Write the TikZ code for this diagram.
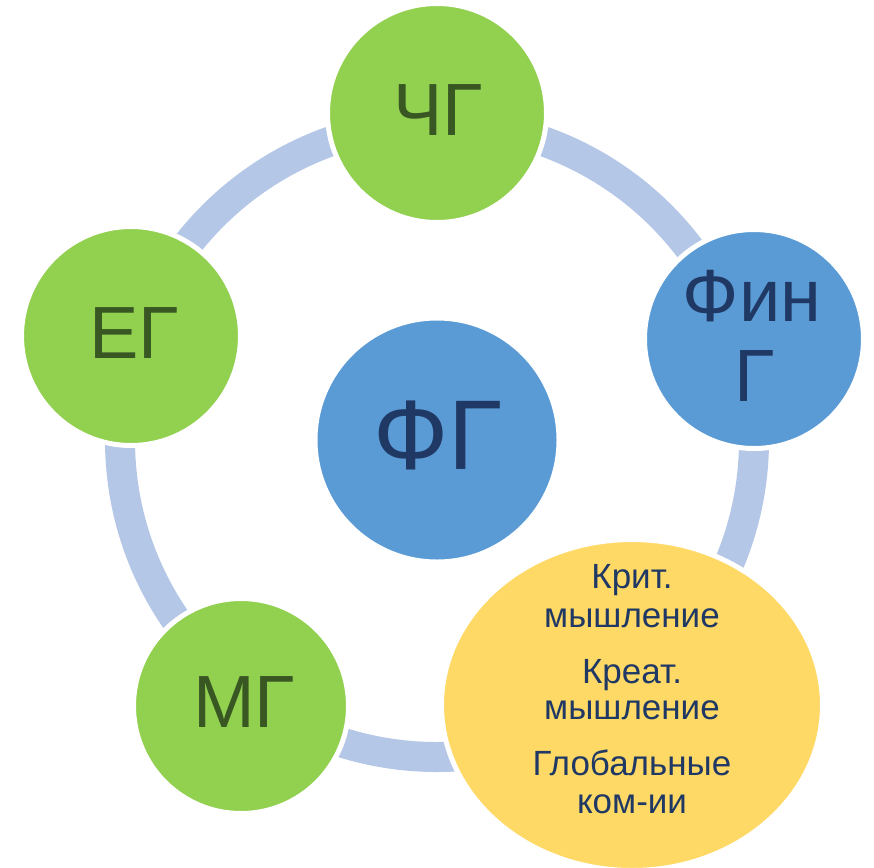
\documentclass[tikz,border=0pt]{standalone}
\usepackage{fontspec}
\setmainfont{Liberation Sans}
\usetikzlibrary{shapes.geometric}
\definecolor{ringc}{HTML}{B4C7E7}
\definecolor{greenc}{HTML}{92D050}
\definecolor{bluec}{HTML}{5B9BD5}
\definecolor{yellowc}{HTML}{FFD966}
\definecolor{gtext}{HTML}{385723}
\definecolor{ntext}{HTML}{1F3864}
\begin{document}
\begin{tikzpicture}[x=1pt,y=-1pt,
  bub/.style={circle, draw=white, line width=5pt, inner sep=0pt, outer sep=0pt},
  gtxt/.style={text=gtext, font=\fontsize{74}{80}\selectfont, inner sep=0pt, anchor=base},
  ntxt/.style={text=ntext, font=\fontsize{74}{80}\selectfont, inner sep=0pt, anchor=base},
  ytxt/.style={text=ntext, font=\fontsize{35}{38}\selectfont, inner sep=0pt, anchor=base}]
\useasboundingbox (0,0) rectangle (874,867);
\fill[white] (0,0) rectangle (874,867);
% ring
\draw[ringc, line width=30pt] (437,440) circle [radius=317];
% circles
\node[bub, fill=greenc, minimum size=219pt] (chg) at (437,113) {};
\node[bub, fill=bluec, minimum size=219pt] (fin) at (754,339) {};
\node[bub, fill=greenc, minimum size=219pt] (eg) at (131,336) {};
\node[bub, fill=greenc, minimum size=215pt] (mg) at (241,706) {};
\node[bub, fill=bluec, minimum size=244pt] (fg) at (437,440) {};
\node[ellipse, draw=white, line width=5pt, fill=yellowc, inner sep=0pt, outer sep=0pt,
      minimum width=381pt, minimum height=331pt] (ym) at (632,705) {};
% labels
\node[gtxt] (chgt) at (438,135) {ЧГ};
\node[gtxt] (egt) at (134,358) {ЕГ};
\node[gtxt] (mgt) at (244,727) {МГ};
\node[ntxt, font=\fontsize{99}{100}\selectfont] (fgt) at (438,469) {ФГ};
\node[ntxt] (fint1) at (752,321) {Фин};
\node[ntxt] (fint2) at (755,401) {Г};
\node[ytxt] (y1) at (632,588) {Крит.};
\node[ytxt] (y2) at (632,627) {мышление};
\node[ytxt] (y3) at (632,683) {Креат.};
\node[ytxt] (y4) at (632,719) {мышление};
\node[ytxt] (y5) at (632,775) {Глобальные};
\node[ytxt] (y6) at (632,813) {ком-ии};
\end{tikzpicture}
\end{document}
